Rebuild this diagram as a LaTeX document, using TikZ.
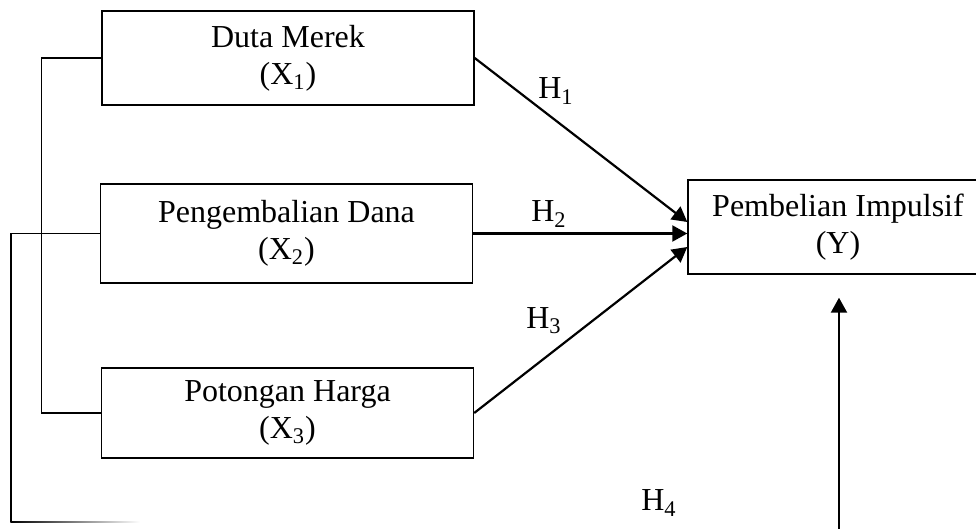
\documentclass[tikz,border=0pt]{standalone}
\usepackage{fontspec}
\setmainfont{Liberation Serif}
\usetikzlibrary{arrows.meta}

\begin{document}
\begin{tikzpicture}[x=0.5pt,y=-0.5pt,font=\fontsize{16}{18.5}\selectfont]
		\clip (0,0) rectangle (976,529);
		\begin{scope}[every node/.style={draw,line width=0.7pt,align=center,minimum width=186pt,
		                                 execute at begin node={\rule{0pt}{15pt}}}]
		    \node[minimum height=47pt] (X1) at (288,58) {Duta Merek\\(X\textsubscript{1})};
		    \node[minimum height=49.5pt] (X2) at (286.5,233.5) {Pengembalian Dana\\(X\textsubscript{2})};
		    \node[minimum height=45pt] (X3) at (287.5,413) {Potongan Harga\\(X\textsubscript{3})};
		    \node[minimum width=150pt,minimum height=47pt] (Y) at (838,227) {Pembelian Impulsif\\(Y)};
		\end{scope}
		
		\coordinate (Xbend) at (11,522);
		\coordinate (Ybot) at (839,540);
		
		\begin{scope}[line width=0.6pt]
		    \draw (X1.west) -- ++(-60,0) |- (X3.west);
		    \draw (X2.west) -| (Xbend);
		    \shade[left color=black,right color=white] (10.4,521.3) rectangle (140,522.7);
		\end{scope}
		
		\begin{scope}[>={Triangle[length=7.5pt,width=8pt]},
		              every edge/.style={draw=black,line width=1.1pt}]
		    \path (X1.east) edge[->] ([yshift=2.5pt]Y.west);
		    \path (X2.east) edge[->] (Y.west |- X2.east);
		    \path (X3.east) edge[->] ([yshift=-10pt]Y.west);
		    \path (Ybot) edge[->,shorten >=11.5pt] (Ybot |- Y.south);
		\end{scope}
		
		\node (h1) at (556,91) {H\textsubscript{1}};
		\node (h2) at (549,214) {H\textsubscript{2}};
		\node (h3) at (544,321) {H\textsubscript{3}};
		\node (h4) at (659,503) {H\textsubscript{4}};
\end{tikzpicture}
\end{document}
